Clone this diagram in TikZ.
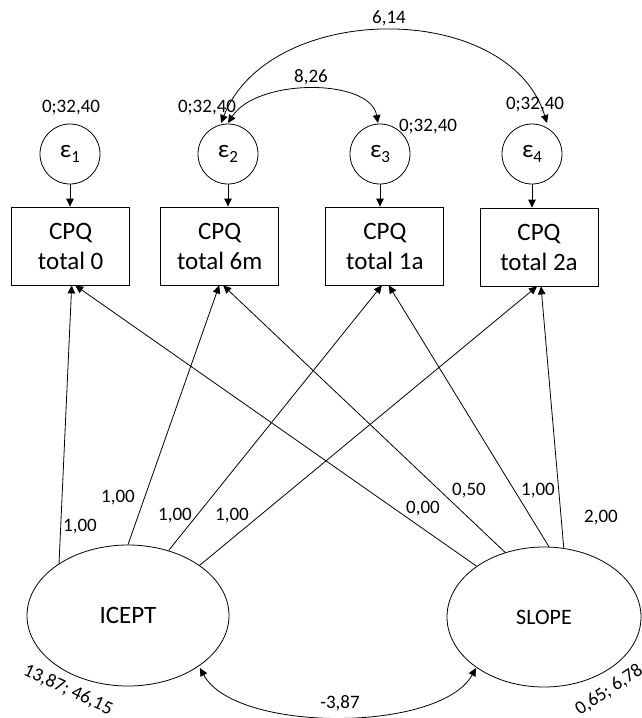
\documentclass[tikz,border=0pt]{standalone}
\usepackage{fontspec}
\setmainfont{Carlito}
\usetikzlibrary{arrows.meta,shapes.geometric,calc}
\newcommand{\epsub}[1]{ε\raisebox{-0.35ex}{\fontsize{17}{17}\selectfont #1}}
\begin{document}
\begin{tikzpicture}[x=1pt,y=-1pt,
  tip/.tip={Triangle[length=8pt,width=7.5pt]},
  arr/.style={-tip, line width=0.8pt},
  darr/.style={tip-tip, line width=0.8pt},
  errnode/.style={circle, draw, line width=0.8pt, minimum size=60pt, inner sep=0pt, font=\fontsize{25}{30}\selectfont},
  obsbox/.style={rectangle, draw, line width=0.8pt, minimum width=118pt, minimum height=78pt, inner sep=0pt, align=center, font=\fontsize{25}{30}\selectfont},
  latent/.style={ellipse, draw, line width=0.8pt, inner sep=0pt},
  lbl/.style={inner sep=0pt, font=\fontsize{19}{22}\selectfont}]
\useasboundingbox (0,0) rectangle (641,718);

% error terms
\node[errnode] (e1) at (70,154) {\epsub{1}};
\node[errnode] (e2) at (228,154) {\epsub{2}};
\node[errnode] (e3) at (380,154) {\epsub{3}};
\node[errnode] (e4) at (532,154) {\epsub{4}};

% observed boxes
\node[obsbox] (b1) at (70.7,246) {CPQ\\total 0};
\node[obsbox] (b2) at (219.7,246) {CPQ\\total 6m};
\node[obsbox] (b3) at (384.8,246) {CPQ\\total 1a};
\node[obsbox] (b4) at (539,247) {CPQ\\total 2a};

% latent variables
\node[latent, minimum width=202pt, minimum height=141pt, font=\fontsize{25}{29}\selectfont] (I) at (128,615.5) {ICEPT};
\node[latent, minimum width=194pt, minimum height=140pt, font=\fontsize{22}{26}\selectfont] (S) at (544,617) {SLOPE};

% error -> box
\foreach \i in {1,2,3,4}{
  \draw[arr] (e\i.south) -- (e\i.south |- b\i.north);
}

% target points on the boxes
\coordinate (t1i) at ($(b1.south)+(1,0)$);
\coordinate (t1s) at ($(b1.south)+(4.5,0)$);
\coordinate (t2i) at ($(b2.south)+(-0.5,0)$);
\coordinate (t2s) at ($(b2.south)+(3.5,0)$);
\coordinate (t3i) at ($(b3.south)+(-3,0)$);
\coordinate (t3s) at ($(b3.south)+(4,0)$);
\coordinate (t4i) at ($(b4.south)+(-2,0)$);
\coordinate (t4s) at ($(b4.south)+(2,0)$);

% loadings
\draw[arr] (I.143.9) -- (t1i);
\draw[arr] (I.90) -- (t2i);
\draw[arr] (I.58.4) -- (t3i);
\draw[arr] (I.35) -- (t4i);
\draw[arr] (S.143.1) -- (t1s);
\draw[arr] (S.121.4) -- (t2s);
\draw[arr] (S.86.7) -- (t3s);
\draw[arr] (S.74) -- (t4s);

% covariances
\coordinate (c2a) at (221,123);
\coordinate (c2b) at (228,123);
\coordinate (c3) at (378,123);
\coordinate (c4) at (547,123);
\draw[darr] (c2a) .. controls (270,0) and (509,0) .. (c4);
\draw[darr] (c2b) .. controls (257,78) and (370,78) .. (c3);
\coordinate (ci) at (200,668);
\coordinate (cs) at (476,668);
\draw[darr] (ci) .. controls (235,733) and (440,733) .. (cs);

% labels
\node[lbl] (l614) at (389,18) {6,14};
\node[lbl] (l826) at (311,77) {8,26};
\node[lbl] (v1) at (71,108) {0;32,40};
\node[lbl] (v2) at (207,108) {0;32,40};
\node[lbl] (v3) at (428,127) {0;32,40};
\node[lbl] (v4) at (535,105) {0;32,40};

\node[lbl] (w1) at (80,527) {1,00};
\node[lbl] (w2) at (118,498) {1,00};
\node[lbl] (w3) at (175,516) {1,00};
\node[lbl] (w4) at (232,516) {1,00};
\node[lbl] (w5) at (423,509) {0,00};
\node[lbl] (w6) at (469,491) {0,50};
\node[lbl] (w7) at (538,491) {1,00};
\node[lbl] (w8) at (601,518) {2,00};

\node[lbl] (cov) at (340,703) {-3,87};
\node[lbl, rotate=-25] (mi) at (68,690) {13,87; 46,15};
\node[lbl, rotate=34, anchor=base west] (ms) at (580,716) {0,65; 6,78};
\end{tikzpicture}
\end{document}
